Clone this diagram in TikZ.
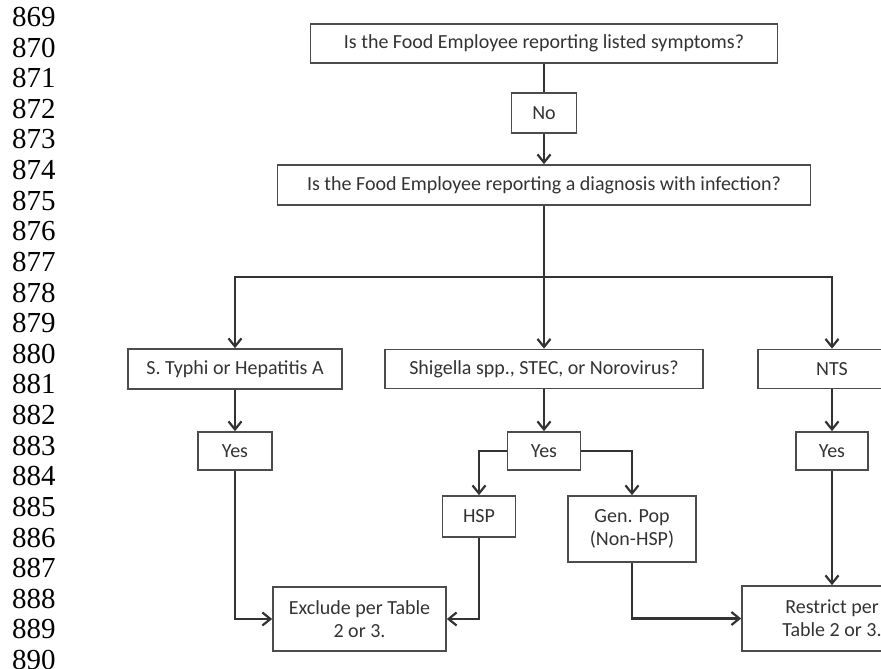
\documentclass[tikz,border=0pt]{standalone}
\usepackage{fontspec}
\setmainfont{Liberation Serif}
\newfontfamily\boxfont{Carlito}
\usetikzlibrary{positioning, arrows.meta}

\begin{document}
\begin{tikzpicture}[x=1pt, y=-1pt,
					FlowBox/.style={draw=black!70, line width=1.7pt, font=\boxfont\fontsize{20}{23}\selectfont, text=black!80, align=center, inner sep=0pt},
					FlowLine/.style={draw=black!80, line width=2.2pt},
					FlowArrow/.style={FlowLine, -{Straight Barb[length=8pt, width=13pt]}},
					LineNum/.style={anchor=west, font=\fontsize{29}{30}\selectfont, inner sep=0pt}]

				\useasboundingbox (0,0) rectangle (881,669);
				\clip (0,0) rectangle (881,669);

				% Line numbers
				\foreach \n [count=\i from 0] in {869,...,890}
					\node[LineNum] (Num\n) at (12, 17+30.62*\i) {\n};

				% Nodes
				\node[FlowBox, minimum width=467pt, minimum height=39pt] (Symptoms) at (544,43.5) {Is the Food Employee reporting listed symptoms?};
				\node[FlowBox, minimum width=65pt, minimum height=40pt] (No) at (544,113) {No};
				\node[FlowBox, minimum width=533pt, minimum height=40pt] (Diagnosis) at (544,185) {Is the Food Employee reporting a diagnosis with infection?};
				\coordinate (Split) at (544,277);
				\node[FlowBox, minimum width=214pt, minimum height=40pt] (Typhi) at (235,369) {S. Typhi or Hepatitis A};
				\node[FlowBox, minimum width=318pt, minimum height=39pt] (Shigella) at (544,369) {Shigella spp., STEC, or Norovirus?};
				\node[FlowBox, minimum width=148pt, minimum height=39pt] (NTS) at (832,369) {NTS};
				\node[FlowBox, minimum width=74pt, minimum height=38pt] (YesA) at (235,451) {Yes};
				\node[FlowBox, minimum width=73pt, minimum height=38pt] (YesB) at (544,451) {Yes};
				\node[FlowBox, minimum width=72pt, minimum height=38pt] (YesC) at (832,451) {Yes};
				\node[FlowBox, minimum width=73pt, minimum height=41pt] (HSP) at (479,516.5) {HSP};
				\node[FlowBox, minimum width=128pt, minimum height=66pt] (GenPop) at (632,529) {Gen. Pop\\(Non-HSP)};
				\node[FlowBox, minimum width=173pt, minimum height=64pt] (Exclude) at (359.5,619) {Exclude per Table\\2 or 3.};
				\node[FlowBox, minimum width=180pt, minimum height=65pt] (Restrict) at (832,618.5) {Restrict per\\Table 2 or 3.};

				% Lines
				\draw[FlowLine] (Symptoms) -- (No);
				\draw[FlowArrow] (No) -- (Diagnosis);
				\draw[FlowLine] (Diagnosis) -- (Split);
				\draw[FlowArrow] (Split) -| (Typhi);
				\draw[FlowArrow] (Split) -- (Shigella);
				\draw[FlowArrow] (Split) -| (NTS);
				\draw[FlowArrow] (Typhi) -- (YesA);
				\draw[FlowArrow] (Shigella) -- (YesB);
				\draw[FlowArrow] (NTS) -- (YesC);
				\draw[FlowArrow] (YesA) |- (Exclude);
				\draw[FlowArrow] (YesB) -| (HSP);
				\draw[FlowArrow] (YesB) -| (GenPop);
				\draw[FlowArrow] (HSP) |- (Exclude);
				\draw[FlowArrow] (GenPop) |- (Restrict);
				\draw[FlowArrow] (YesC) -- (Restrict);
			\end{tikzpicture}
\end{document}
